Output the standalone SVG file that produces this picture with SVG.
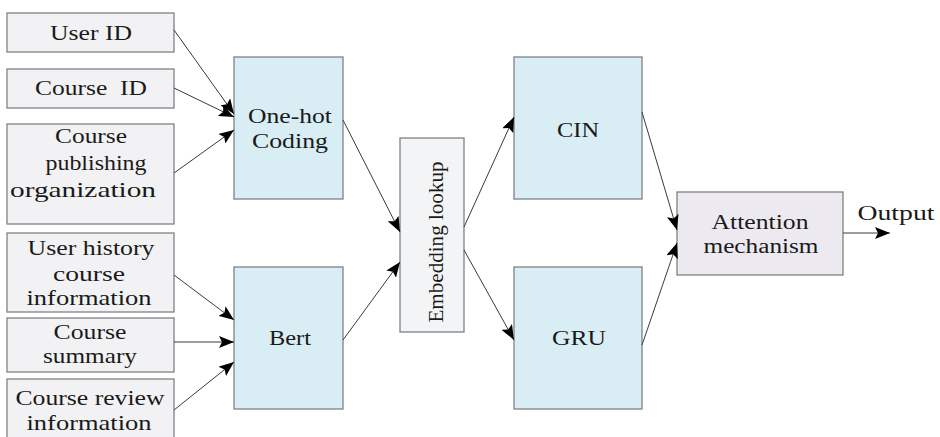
<svg xmlns="http://www.w3.org/2000/svg" width="940" height="437" viewBox="0 0 940 437">
<style>
.in{fill:#f2f2f4;stroke:#808285;stroke-width:1.3}
.blue{fill:#d9edf4;stroke:#7d8387;stroke-width:1.3}
.emb{fill:#f3f4f6;stroke:#808285;stroke-width:1.3}
.att{fill:#ece9f1;stroke:#808285;stroke-width:1.3}
text{font-family:"Liberation Serif","DejaVu Serif",serif;font-size:22px;fill:#1a1a1a;text-anchor:middle}
.sm{font-size:20px}
.c line{stroke:#3a3a3a;stroke-width:1;marker-end:url(#ah)}
</style>
<defs>
<marker id="ah" markerUnits="userSpaceOnUse" markerWidth="16" markerHeight="12" refX="15" refY="6" orient="auto">
<path d="M0,0 L15,6 L0,12 L3,6 z" fill="#000"/>
</marker>
</defs>
<rect width="940" height="437" fill="#fff"/>
<g id="user-id"><rect class="in" x="7" y="13" width="167" height="39"/><text x="91" y="40" textLength="82" lengthAdjust="spacingAndGlyphs">User ID</text></g>
<g id="course-id"><rect class="in" x="7" y="69" width="167" height="39"/><text x="91" y="95" textLength="112" lengthAdjust="spacingAndGlyphs" xml:space="preserve">Course  ID</text></g>
<g id="course-org"><rect class="in" x="7" y="124" width="167" height="100"/><text x="91" y="143" textLength="72" lengthAdjust="spacingAndGlyphs">Course</text><text x="96" y="170" textLength="101" lengthAdjust="spacingAndGlyphs">publishing</text><text x="83" y="197" textLength="146" lengthAdjust="spacingAndGlyphs">organization</text></g>
<g id="user-history"><rect class="in" x="7" y="233" width="167" height="79"/><text x="91" y="255" textLength="127" lengthAdjust="spacingAndGlyphs">User history</text><text x="89" y="281" textLength="72" lengthAdjust="spacingAndGlyphs">course</text><text x="89" y="305" textLength="125" lengthAdjust="spacingAndGlyphs">information</text></g>
<g id="course-summary"><rect class="in" x="7" y="318" width="167" height="54"/><text x="90" y="339" textLength="73" lengthAdjust="spacingAndGlyphs">Course</text><text x="90" y="363" textLength="94" lengthAdjust="spacingAndGlyphs">summary</text></g>
<g id="course-review"><rect class="in" x="7" y="379" width="167" height="66"/><text x="90" y="405" textLength="149" lengthAdjust="spacingAndGlyphs">Course review</text><text x="89" y="430" textLength="125" lengthAdjust="spacingAndGlyphs">information</text></g>
<g id="one-hot"><rect class="blue" x="234" y="57" width="109" height="142"/><text x="290" y="123" textLength="84" lengthAdjust="spacingAndGlyphs">One-hot</text><text x="290" y="148" textLength="76" lengthAdjust="spacingAndGlyphs">Coding</text></g>
<g id="bert"><rect class="blue" x="234" y="267" width="109" height="142"/><text x="290" y="345" textLength="42" lengthAdjust="spacingAndGlyphs">Bert</text></g>
<g id="embedding"><rect class="emb" x="400" y="138" width="64" height="194"/><text transform="translate(443 242) rotate(-90)" x="0" y="0" textLength="161" lengthAdjust="spacingAndGlyphs">Embedding lookup</text></g>
<g id="cin"><rect class="blue" x="514" y="57" width="128" height="142"/><text x="578" y="137" textLength="42" lengthAdjust="spacingAndGlyphs">CIN</text></g>
<g id="gru"><rect class="blue" x="514" y="267" width="128" height="142"/><text x="579" y="345" textLength="54" lengthAdjust="spacingAndGlyphs">GRU</text></g>
<g id="attention"><rect class="att" x="677" y="192" width="166" height="83"/><text class="sm" x="760" y="229" textLength="97" lengthAdjust="spacingAndGlyphs">Attention</text><text class="sm" x="761" y="253" textLength="115" lengthAdjust="spacingAndGlyphs">mechanism</text></g>
<g id="output"><text x="896" y="220" textLength="77" lengthAdjust="spacingAndGlyphs">Output</text></g>
<g id="connectors" class="c">
<line x1="174" y1="30" x2="234" y2="114"/>
<line x1="174" y1="88" x2="234" y2="117"/>
<line x1="174" y1="173" x2="234" y2="130"/>
<line x1="174" y1="275" x2="234" y2="320"/>
<line x1="174" y1="342" x2="234" y2="342"/>
<line x1="174" y1="410" x2="234" y2="362"/>
<line x1="343" y1="120" x2="400" y2="232"/>
<line x1="343" y1="340" x2="400" y2="262"/>
<line x1="464" y1="227" x2="514" y2="117"/>
<line x1="464" y1="250" x2="514" y2="340"/>
<line x1="642" y1="112" x2="677" y2="230"/>
<line x1="642" y1="345" x2="677" y2="243"/>
<line x1="843" y1="233" x2="890" y2="233"/>
</g>
</svg>
